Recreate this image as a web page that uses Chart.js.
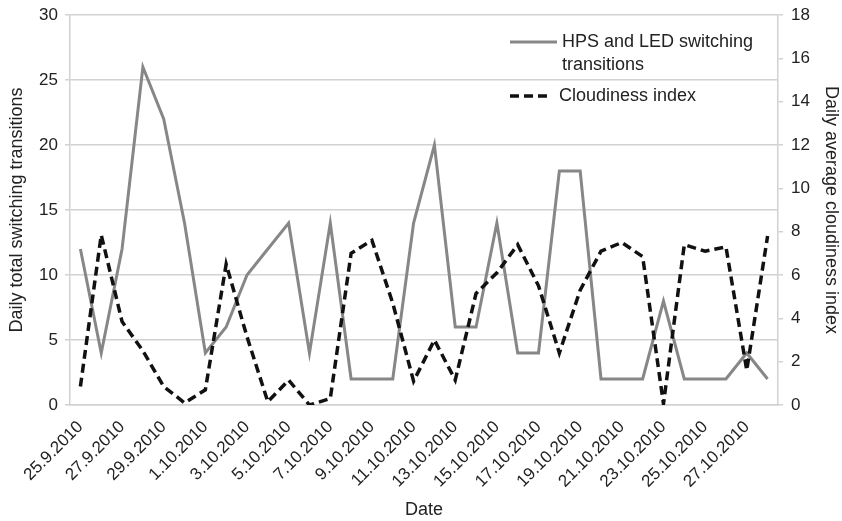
<!DOCTYPE html>
<html>
<head>
<meta charset="utf-8">
<script src="https://cdn.jsdelivr.net/npm/chart.js@4/dist/chart.umd.min.js"></script>
<style>
  html, body { margin: 0; padding: 0; background: #fff; }
  canvas { display: block; }
</style>
</head>
<body>
<canvas id="myChart" width="842" height="521"></canvas>
<script>
// data
const dates = [
  '25.9.2010', '26.9.2010', '27.9.2010', '28.9.2010', '29.9.2010', '30.9.2010',
  '1.10.2010', '2.10.2010', '3.10.2010', '4.10.2010', '5.10.2010', '6.10.2010',
  '7.10.2010', '8.10.2010', '9.10.2010', '10.10.2010', '11.10.2010', '12.10.2010',
  '13.10.2010', '14.10.2010', '15.10.2010', '16.10.2010', '17.10.2010', '18.10.2010',
  '19.10.2010', '20.10.2010', '21.10.2010', '22.10.2010', '23.10.2010', '24.10.2010',
  '25.10.2010', '26.10.2010', '27.10.2010', '28.10.2010'
];
const transitions = [12, 4, 12, 26, 22, 14, 4, 6, 10, 12, 14, 4, 14, 2, 2, 2, 14,
  20, 6, 6, 14, 4, 4, 18, 18, 2, 2, 2, 8, 2, 2, 2, 4, 2];
const cloudiness = [0.85, 7.85, 3.85, 2.5, 0.85, 0.1, 0.7, 6.5, 3.15, 0.15, 1.15, 0,
  0.3, 7.0, 7.6, 4.7, 1.1, 3.0, 1.15, 5.15, 6.1, 7.4, 5.5, 2.4, 5.3, 7.1, 7.5, 6.85,
  0.05, 7.4, 7.1, 7.3, 1.6, 7.8];
const leftTicks = [0, 5, 10, 15, 20, 25, 30];
const rightTicks = [0, 2, 4, 6, 8, 10, 12, 14, 16, 18];

const FONT = '"Liberation Sans", Arial, Helvetica, sans-serif';
const TEXT = '#222';
const GRID = '#d2d2d2';

// legend drawn by hand so the first label can wrap onto two lines
const sideLegend = {
  id: 'sideLegend',
  afterDatasetsDraw(chart) {
    const ctx = chart.ctx;
    const items = [
      { ds: chart.data.datasets[0], x1: 510, x2: 557, tx: 562, y: 42, lines: ['HPS and LED switching', 'transitions'] },
      { ds: chart.data.datasets[1], x1: 510, x2: 552, tx: 559, y: 96, lines: ['Cloudiness index'] }
    ];
    ctx.save();
    items.forEach(function(it) {
      ctx.strokeStyle = it.ds.borderColor;
      ctx.lineWidth = it.ds.borderWidth;
      ctx.setLineDash(it.ds.borderDash || []);
      ctx.beginPath();
      ctx.moveTo(it.x1, it.y);
      ctx.lineTo(it.x2, it.y);
      ctx.stroke();
      ctx.setLineDash([]);
      ctx.fillStyle = TEXT;
      ctx.font = '18px ' + FONT;
      ctx.textBaseline = 'middle';
      it.lines.forEach(function(t, k) {
        ctx.fillText(t, it.tx, it.y + k * 23);
      });
    });
    ctx.restore();
  }
};

var ctx = document.getElementById('myChart').getContext('2d');

var chart = new Chart(ctx, {
  type: 'line',
  data: {
    labels: dates,
    datasets: [
      {
        label: 'HPS and LED switching transitions',
        data: transitions,
        borderColor: '#878787',
        backgroundColor: 'transparent',
        borderWidth: 3,
        pointRadius: 0,
        tension: 0,
        yAxisID: 'y',
        order: 1
      },
      {
        label: 'Cloudiness index',
        data: cloudiness,
        borderColor: '#111',
        backgroundColor: 'transparent',
        borderWidth: 3.5,
        borderDash: [9, 5],
        pointRadius: 0,
        tension: 0,
        yAxisID: 'y1',
        order: 0
      }
    ]
  },
  options: {
    responsive: false,
    animation: false,
    layout: { padding: { top: 0, left: 0, right: 0, bottom: 0 } },
    plugins: {
      legend: { display: false },
      tooltip: { enabled: false }
    },
    scales: {
      x: {
        offset: true,
        grid: { display: false },
        border: { display: true, color: GRID, width: 1.5 },
        ticks: {
          autoSkip: false,
          minRotation: 45,
          maxRotation: 45,
          padding: 4,
          color: TEXT,
          font: { family: FONT, size: 17 },
          callback: function(v, i) { return i % 2 === 0 ? dates[i] : ''; }
        },
        title: {
          display: true,
          text: 'Date',
          color: TEXT,
          font: { family: FONT, size: 18 },
          padding: { top: 0, bottom: 0 }
        },
        afterFit: function(s) { s.height = 116; }
      },
      y: {
        position: 'left',
        min: 0,
        max: 30,
        afterBuildTicks: function(s) { s.ticks = leftTicks.map(function(v) { return { value: v }; }); },
        grid: { color: GRID, lineWidth: 1.5, tickLength: 5 },
        border: { display: true, color: GRID, width: 1.5 },
        ticks: { color: TEXT, padding: 7, font: { family: FONT, size: 17 } },
        title: {
          display: true,
          text: 'Daily total switching transitions',
          color: TEXT,
          font: { family: FONT, size: 18 },
          padding: { top: 6, bottom: 0 }
        },
        afterFit: function(s) { s.width = 70; s.paddingTop = 15; }
      },
      y1: {
        position: 'right',
        min: 0,
        max: 18,
        afterBuildTicks: function(s) { s.ticks = rightTicks.map(function(v) { return { value: v }; }); },
        grid: { drawOnChartArea: false, color: GRID, lineWidth: 1.5, tickLength: 5 },
        border: { display: true, color: GRID, width: 1.5 },
        ticks: { color: TEXT, padding: 8, font: { family: FONT, size: 17 } },
        title: {
          display: true,
          text: 'Daily average cloudiness index',
          color: TEXT,
          font: { family: FONT, size: 18 },
          padding: { top: 0, bottom: 0 }
        },
        afterFit: function(s) { s.width = 64; s.paddingTop = 15; }
      }
    }
  },
  plugins: [sideLegend]
});
</script>
</body>
</html>
